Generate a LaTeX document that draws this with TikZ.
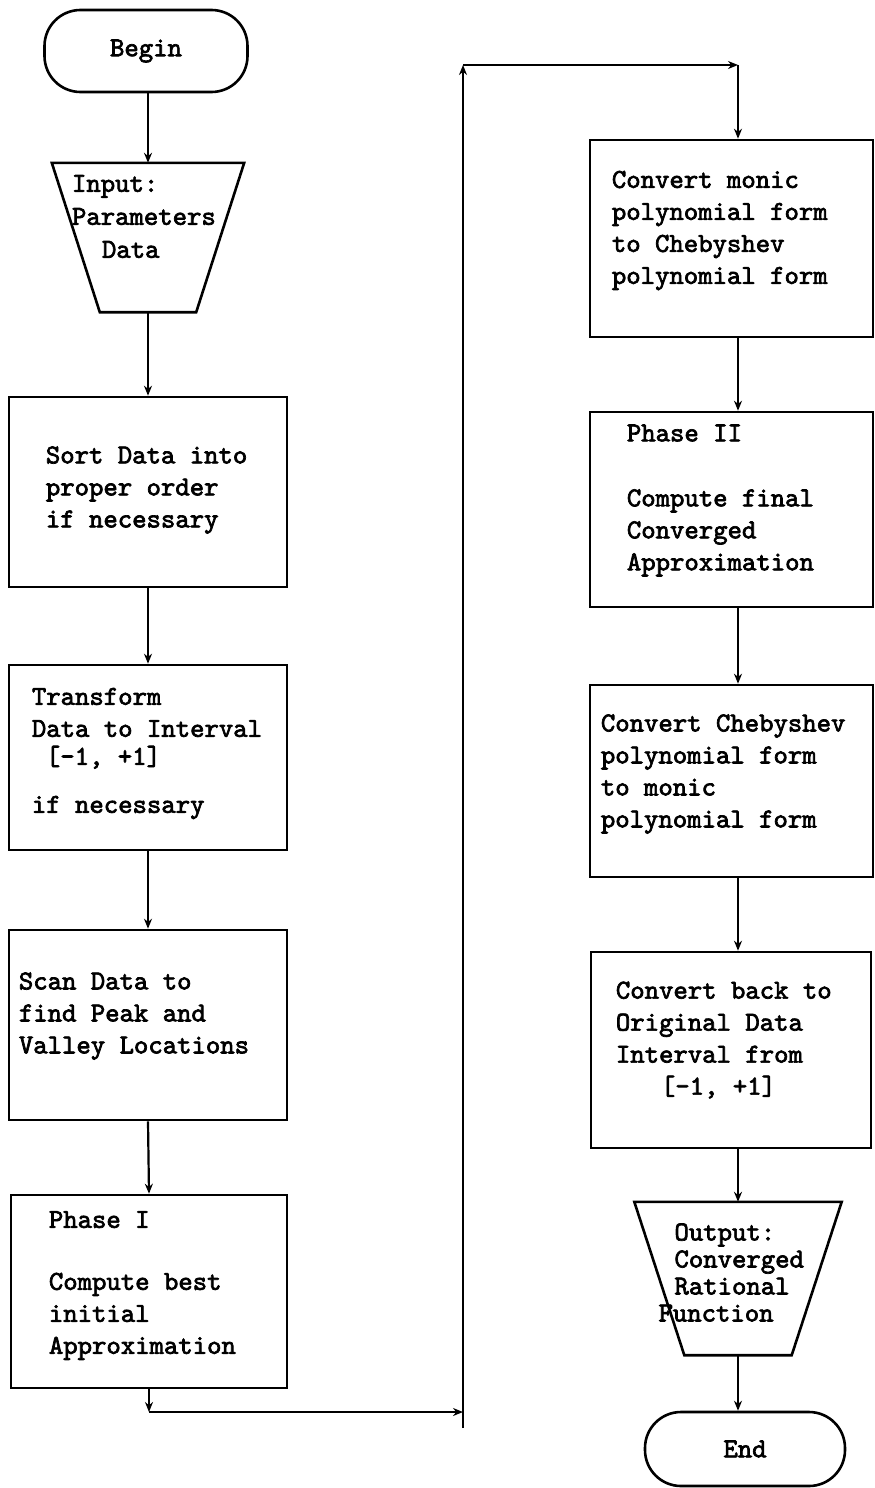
\documentclass[tikz,border=0pt]{standalone}
\usepackage{fontspec}
\usetikzlibrary{arrows.meta,calc}
\newfontfamily\twfam{lmmono10-regular.otf}[FakeBold=2.5]
\newcommand\twfont[1]{\twfam\fontsize{27.4}{#1}\selectfont}
\begin{document}
\begin{tikzpicture}[x=1pt,y=-1pt,
  box/.style={draw, line width=2.6pt, rectangle, inner sep=0pt},
  term/.style={draw, line width=2.6pt, rectangle, rounded corners=36pt, inner sep=0pt},
  ghost/.style={rectangle, inner sep=0pt},
  trap/.style={draw, line width=2.6pt, line join=miter},
  txt/.style={font=\twfont{32}, align=left, inner sep=0pt},
  arr/.style={line width=2.2pt, -{Stealth[length=10pt,width=8pt]}}]
\useasboundingbox (0,0) rectangle (875,1488);

% ---------- left column ----------
\node[term, minimum width=203, minimum height=82] (begin) at (146,51) {};
\node[txt] (tbegin) at (begin) {Begin};

\node[ghost, minimum width=192, minimum height=149] (in) at (148,237.5) {};
\draw[trap] (in.north west) -- (in.north east) -- ([xshift=-48pt]in.south east) -- ([xshift=48pt]in.south west) -- cycle;
\node[txt, anchor=west, font=\twfont{33}] (tin) at ([xshift=20pt,yshift=21pt]in.west) {Input:\\Parameters\\\hspace*{30pt}Data};

\node[box, minimum width=278, minimum height=190] (sort) at (148,492) {};
\node[txt, anchor=west] (tsort) at ([xshift=38pt,yshift=2pt]sort.west) {Sort Data into\\proper order\\if necessary};

\node[box, minimum width=278, minimum height=185] (trans) at (148,757.5) {};
\node[txt, anchor=west] (ttrans) at ([xshift=24pt,yshift=4pt]trans.west) {Transform\\Data to Interval\\[-4pt]\hspace*{14pt}[-1, +1]\\[16pt]if necessary};

\node[box, minimum width=278, minimum height=190] (scan) at (148,1025) {};
\node[txt, anchor=west] (tscan) at ([xshift=11pt,yshift=9pt]scan.west) {Scan Data to\\find Peak and\\Valley Locations};

\node[box, minimum width=276, minimum height=193] (ph1) at (149,1291.5) {};
\node[txt, anchor=west] (tph1) at ([xshift=39pt,yshift=6pt]ph1.west) {Phase I\\[30pt]Compute best\\initial\\Approximation};

% ---------- right column ----------
\coordinate (rx) at (738,0);
\node[box, minimum width=283, minimum height=197] (monic) at (731.5,238.5) {};
\node[txt, anchor=west] (tmonic) at ([xshift=23pt,yshift=8pt]monic.west) {Convert monic\\polynomial form\\to Chebyshev\\polynomial form};

\node[box, minimum width=283, minimum height=195] (ph2) at (731.5,509.5) {};
\node[txt, anchor=west] (tph2) at ([xshift=38pt,yshift=9pt]ph2.west) {Phase II\\[33pt]Compute final\\Converged\\Approximation};

\node[box, minimum width=283, minimum height=192] (cheb) at (731.5,781) {};
\node[txt, anchor=west] (tcheb) at ([xshift=12pt,yshift=7pt]cheb.west) {Convert Chebyshev\\polynomial form\\to monic\\polynomial form};

\node[box, minimum width=280, minimum height=196] (back) at (731,1050) {};
\node[txt, anchor=west] (tback) at ([xshift=26pt,yshift=10pt]back.west) {Convert back to\\Original Data\\Interval from\\\hspace*{45pt}[-1, +1]};

\node[ghost, minimum width=207, minimum height=153] (out) at (738,1278.5) {};
\draw[trap] (out.north west) -- (out.north east) -- ([xshift=-50pt]out.south east) -- ([xshift=50pt]out.south west) -- cycle;
\node[txt, anchor=west, font=\twfont{27}] (tout) at ([xshift=24pt,yshift=6pt]out.west) {\hspace*{16pt}Output:\\\hspace*{16pt}Converged\\\hspace*{16pt}Rational\\Function};

\node[term, minimum width=200, minimum height=74] (end) at (745,1449) {};
\node[txt] (tend) at (end) {End};

% ---------- connectors ----------
\draw[arr] (begin.south -| in.north) -- (in.north);
\draw[arr] (in.south) -- (sort.north);
\draw[arr] (sort.south) -- (trans.north);
\draw[arr] (trans.south) -- (scan.north);
\draw[arr] (scan.south) -- (ph1.north);

\coordinate (c1) at (463,1412);
\coordinate (c2) at (463,65);
\coordinate (c3) at (738,65);
\coordinate (c0) at (463,1428);
\draw[arr] (ph1.south) -- (ph1.south |- c1);
\draw[arr] (ph1.south |- c1) -- (c1);
\draw[line width=2.2pt] (c0) -- (c1);
\draw[arr] (c1) -- (c2);
\draw[arr] (c2) -- (c3);
\draw[arr] (c3) -- (monic.north -| c3);

\draw[arr] (monic.south -| rx) -- (ph2.north -| rx);
\draw[arr] (ph2.south -| rx) -- (cheb.north -| rx);
\draw[arr] (cheb.south -| rx) -- (back.north -| rx);
\draw[arr] (back.south -| rx) -- (out.north);
\draw[arr] (out.south) -- (out.south |- end.north);
\end{tikzpicture}
\end{document}
